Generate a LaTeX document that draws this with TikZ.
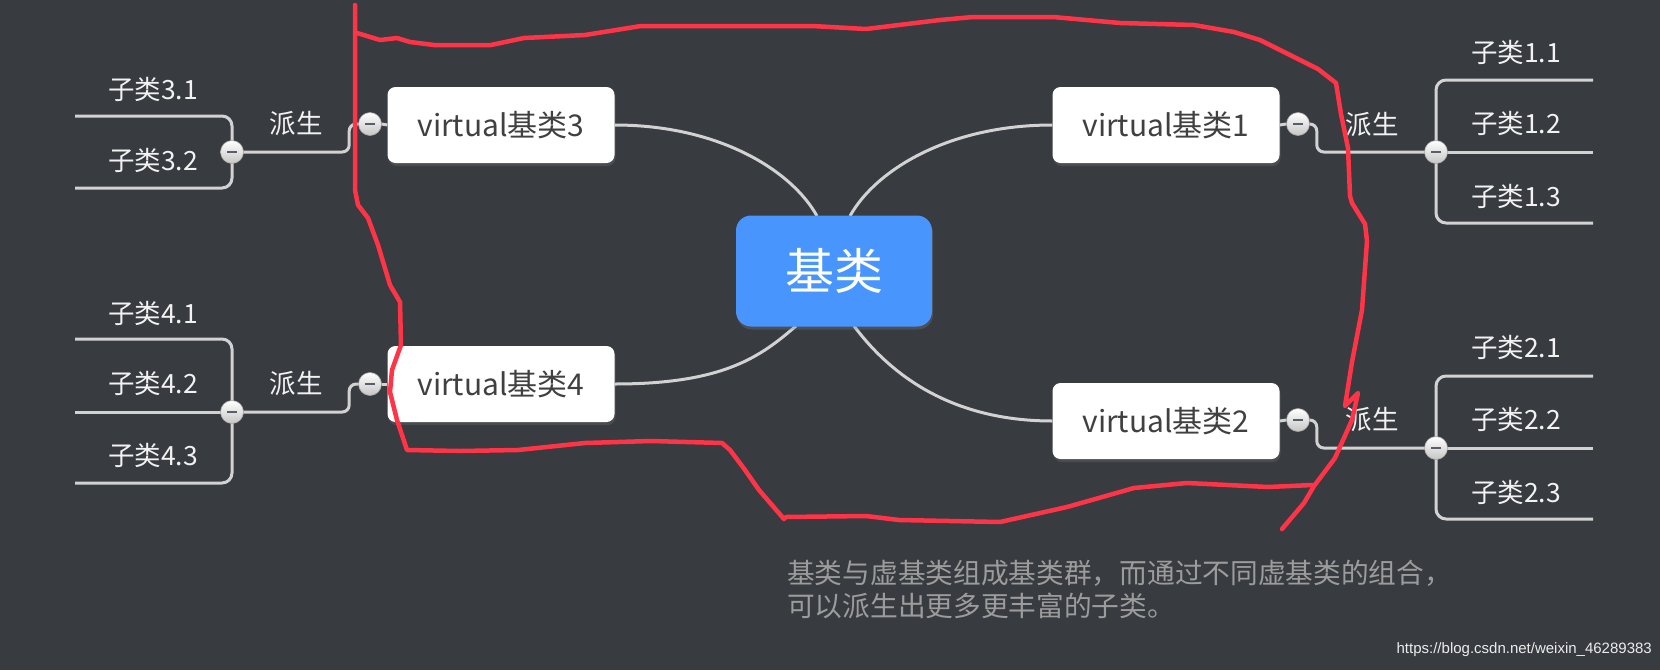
\documentclass[tikz,border=0pt]{standalone}
\usepackage{fontspec}
\setmainfont{Noto Sans CJK SC}
\newfontfamily\wmfont{Liberation Sans}
\usetikzlibrary{calc,shadows}
\definecolor{bg}{HTML}{383B40}
\definecolor{linkc}{HTML}{D2D2D2}
\definecolor{boxtext}{HTML}{404040}
\definecolor{centerc}{HTML}{4895FD}
\definecolor{labelc}{HTML}{F2F2F2}
\definecolor{notec}{HTML}{9C9C9C}
\definecolor{redpen}{HTML}{FF3447}
\definecolor{minusc}{HTML}{5A5E66}
\begin{document}
\begin{tikzpicture}[x=1pt,y=-1pt,
  link/.style={draw=linkc, line width=3pt},
  vbox/.style={fill=white, rounded corners=8pt, minimum width=227pt, minimum height=76pt,
    text=boxtext, font=\fontsize{30}{34}\selectfont, inner sep=0pt,
    drop shadow={opacity=0.25, shadow xshift=1pt, shadow yshift=-3pt}},
  cbox/.style={fill=centerc, rounded corners=15pt, minimum width=196pt, minimum height=111pt,
    text=white, font=\fontsize{49}{53}\selectfont, inner sep=0pt,
    drop shadow={opacity=0.3, shadow xshift=1pt, shadow yshift=-3pt}},
  knob/.style={circle, minimum size=23pt, inner sep=0pt, draw=gray!70, line width=0.6pt,
    top color=white, bottom color=gray!45,
    path picture={\draw[minusc, line width=2.6pt]
      ($(path picture bounding box.center)+(-5pt,0)$) -- ($(path picture bounding box.center)+(5pt,0)$);}},
  lbl/.style={text=labelc, font=\fontsize{26.5}{29}\selectfont, inner sep=0pt},
  pen/.style={draw=redpen, line width=4.5pt, line join=round, line cap=round}
]
\fill[bg] (0,0) rectangle (1660,670);
\useasboundingbox (0,0) rectangle (1660,670);

% curves from centre to boxes
\node[vbox] (b3) at (501,125) {virtual基类3};
\node[vbox] (b4) at (501,384) {virtual基类4};
\node[vbox] (b1) at (1166,125) {virtual基类1};
\node[vbox] (b2) at (1166,421) {virtual基类2};
\coordinate (c0) at (834,271);
\draw[link] (b3.east) .. controls +(105,0) and +(-25,-45) .. ($(c0)+(-17,-55)$);
\draw[link] (b1.west) .. controls +(-105,0) and +(25,-45) .. ($(c0)+(16,-55)$);
\draw[link] (b4.east) .. controls +(110,0) and +(-35,30) .. ($(c0)+(-38,55)$);
\draw[link] (b2.west) .. controls +(-110,0) and +(30,40) .. ($(c0)+(20,55)$);
\node[cbox] (c) at (c0) {基类};

% end points
\coordinate (e31) at (75,116);  \coordinate (e32) at (75,188);
\coordinate (e41) at (75,339);  \coordinate (e42) at (75,412);  \coordinate (e43) at (75,483);
\coordinate (e11) at (1593,80); \coordinate (e12) at (1593,152); \coordinate (e13) at (1593,223);
\coordinate (e21) at (1593,376); \coordinate (e22) at (1593,448); \coordinate (e23) at (1593,519);
\coordinate (p3) at (232,152); \coordinate (p4) at (232,412);
\coordinate (p1) at (1436,152); \coordinate (p2) at (1436,448);

% branch lines
\draw[link, rounded corners=10pt] (e31) -| (p3) |- (e32);
\draw[link, rounded corners=10pt] (e41) -| (p4) |- (e43);
\draw[link] (p4) -- (e42);
\draw[link, rounded corners=10pt] (e11) -| (p1) |- (e13);
\draw[link] (p1) -- (e12);
\draw[link, rounded corners=10pt] (e21) -| (p2) |- (e23);
\draw[link] (p2) -- (e22);

% knobs
\node[knob] (k3) at (370,124) {};
\node[knob] (k4) at (370,384) {};
\node[knob] (k1) at (1298,124) {};
\node[knob] (k2) at (1298,420) {};
\draw[link] (b3.west) -- (k3.east);
\draw[link] (b4.west) -- (k4.east);
\draw[link] (b1.east) -- (k1.west);
\draw[link] (b2.east) -- (k2.west);
\draw[link, rounded corners=7pt] (k3.west) -- ++(-9,0) |- (p3);
\draw[link, rounded corners=7pt] (k4.west) -- ++(-9,0) |- (p4);
\draw[link, rounded corners=7pt] (k1.east) -- ++(7,0) |- (p1);
\draw[link, rounded corners=7pt] (k2.east) -- ++(7,0) |- (p2);
\node[knob] (d3) at (p3) {};
\node[knob] (d4) at (p4) {};
\node[knob] (d1) at (p1) {};
\node[knob] (d2) at (p2) {};

% labels
\node[lbl] (l31) at (153,89) {子类3.1};
\node[lbl] (l32) at (153,160) {子类3.2};
\node[lbl] (l41) at (153,313) {子类4.1};
\node[lbl] (l42) at (153,383) {子类4.2};
\node[lbl] (l43) at (153,455) {子类4.3};
\node[lbl] (r11) at (1516,52) {子类1.1};
\node[lbl] (r12) at (1516,123) {子类1.2};
\node[lbl] (r13) at (1516,196) {子类1.3};
\node[lbl] (r21) at (1516,347) {子类2.1};
\node[lbl] (r22) at (1516,419) {子类2.2};
\node[lbl] (r23) at (1516,492) {子类2.3};
\node[lbl] (ps3) at (296,123) {派生};
\node[lbl] (ps4) at (296,383) {派生};
\node[lbl] (ps1) at (1372,124) {派生};
\node[lbl] (ps2) at (1372,419) {派生};

% note and watermark
\node[anchor=north west, text=notec, align=left, inner sep=0pt,
  font=\fontsize{27.7}{33}\selectfont] (note) at (787,560)
  {基类与虚基类组成基类群，而通过不同虚基类的组合，\\可以派生出更多更丰富的子类。};
\node[anchor=east, text=white!85!gray, inner sep=0pt, font=\wmfont\fontsize{15}{17}\selectfont] (wm)
  at (1652,650) {https://blog.csdn.net/weixin\_46289383};

% red hand-drawn outline
\draw[pen] (355,5) -- (355,60) -- (355,190) -- (358,205) -- (368,218) -- (378,245) -- (390,285)
  -- (400,302) -- (401,345) -- (392,370) -- (390,392) -- (397,420) -- (407,450)
  -- (460,451) -- (518,450) -- (585,443) -- (651,441) -- (722,443) -- (730,450)
  -- (745,470) -- (759,490) -- (784,519) -- (786,517) -- (866,516) -- (899,520) -- (1000,522)
  -- (1067,507) -- (1134,488) -- (1187,483) -- (1268,487) -- (1312,485);
\draw[pen] (357,33) -- (380,40) -- (397,38) -- (410,42) -- (434,45) -- (491,45) -- (524,38)
  -- (585,35) -- (641,26) -- (812,26) -- (866,29) -- (940,20) -- (973,17) -- (1053,17)
  -- (1120,23) -- (1194,25) -- (1234,32) -- (1260,40) -- (1284,52) -- (1318,69) -- (1336,83)
  -- (1341,114) -- (1348,148) -- (1350,196) -- (1352,203) -- (1365,224) -- (1367,241)
  -- (1362,310) -- (1352,362) -- (1345,406) -- (1358,393) -- (1352,420) -- (1335,458)
  -- (1314,486) -- (1304,503) -- (1282,529);
\end{tikzpicture}
\end{document}
